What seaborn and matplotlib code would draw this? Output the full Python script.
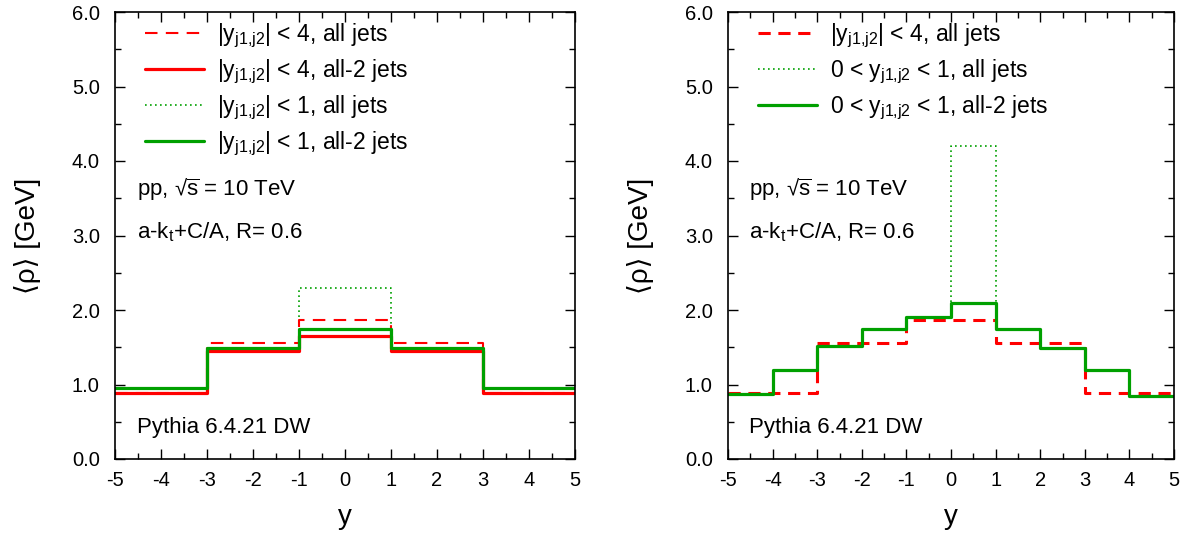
import numpy as np
import pandas as pd
import matplotlib
matplotlib.use("Agg")
import matplotlib.pyplot as plt
import seaborn as sns
from matplotlib.ticker import MultipleLocator, FormatStrFormatter

sns.set_style("ticks")
plt.rcParams['font.family'] = ['Liberation Sans', 'DejaVu Sans']
plt.rcParams['mathtext.fontset'] = 'custom'
plt.rcParams['mathtext.rm'] = 'Liberation Sans'
plt.rcParams['mathtext.it'] = 'Liberation Sans'
plt.rcParams['mathtext.default'] = 'regular'
plt.rcParams['axes.unicode_minus'] = False
for k in ['text.color', 'axes.labelcolor', 'xtick.color', 'ytick.color', 'axes.edgecolor']:
    plt.rcParams[k] = 'black'

# ---- data ----
left_edges = [-5, -3, -1, 1, 3, 5]
left_all4 = [0.89, 1.56, 1.87, 1.56, 0.89]
left_all2_4 = [0.89, 1.45, 1.655, 1.45, 0.89]
left_all1 = [0.95, 1.49, 2.30, 1.49, 0.95]
left_all2_1 = [0.95, 1.49, 1.75, 1.49, 0.95]

right_edges = [-5, -4, -3, -2, -1, 0, 1, 2, 3, 4, 5]
right_all4 = [0.89, 0.89, 1.56, 1.56, 1.865, 1.865, 1.56, 1.56, 0.89, 0.89]
right_all01 = [0.87, 1.19, 1.52, 1.74, 1.91, 4.20, 1.75, 1.49, 1.19, 0.85]
right_all2_01 = [0.87, 1.19, 1.52, 1.74, 1.91, 2.09, 1.75, 1.49, 1.19, 0.85]

xticks = [-5, -4, -3, -2, -1, 0, 1, 2, 3, 4, 5]
yticks = [0.0, 1.0, 2.0, 3.0, 4.0, 5.0, 6.0]

left_labels = [r"$|y_{j1{,}j2}|$ < 4, all jets", r"$|y_{j1{,}j2}|$ < 4, all-2 jets",
               r"$|y_{j1{,}j2}|$ < 1, all jets", r"$|y_{j1{,}j2}|$ < 1, all-2 jets"]
right_labels = [r"$|y_{j1{,}j2}|$ < 4, all jets", r"0 < $y_{j1{,}j2}$ < 1, all jets",
                r"0 < $y_{j1{,}j2}$ < 1, all-2 jets"]

RED = '#ff0000'
GREEN = '#00a000'

def step_df(edges, vals):
    return pd.DataFrame({'x': edges, 'v': list(vals) + [vals[-1]]})

def draw(ax, edges, vals, label, **kw):
    sns.lineplot(data=step_df(edges, vals), x='x', y='v', ax=ax, estimator=None,
                 drawstyle='steps-post', label=label, **kw)

fig = plt.figure(figsize=(12, 5.35), dpi=100)
axL = fig.add_axes([115/1200, 1-459/535, 460/1200, 447/535])
axR = fig.add_axes([728/1200, 1-459/535, 446/1200, 447/535])

# left panel
draw(axL, left_edges, left_all1, left_labels[2], color=GREEN, lw=1.2, ls=(0, (1, 2)))
draw(axL, left_edges, left_all4, left_labels[0], color=RED, lw=1.5, ls=(0, (6, 4)))
draw(axL, left_edges, left_all2_4, left_labels[1], color=RED, lw=2.3)
draw(axL, left_edges, left_all2_1, left_labels[3], color=GREEN, lw=2.3)

# right panel
draw(axR, right_edges, right_all4, right_labels[0], color=RED, lw=2.2, ls=(0, (4, 2.5)))
draw(axR, right_edges, right_all01, right_labels[1], color=GREEN, lw=1.2, ls=(0, (1, 2)))
draw(axR, right_edges, right_all2_01, right_labels[2], color=GREEN, lw=2.3)

FS = 16.5
for ax, order, labels in [(axL, [1, 2, 0, 3], left_labels), (axR, [0, 1, 2], right_labels)]:
    ax.set_xlim(-5, 5)
    ax.set_ylim(0, 6)
    ax.set_xticks(xticks)
    ax.set_yticks(yticks)
    ax.yaxis.set_major_formatter(FormatStrFormatter('%.1f'))
    ax.xaxis.set_minor_locator(MultipleLocator(0.5))
    ax.yaxis.set_minor_locator(MultipleLocator(0.5))
    ax.tick_params(which='both', direction='in', top=True, right=True, labelsize=14.5,
                   color='black', width=1.0)
    ax.tick_params(which='major', length=7)
    ax.tick_params(axis='x', which='major', pad=9)
    ax.tick_params(axis='y', which='major', pad=11)
    ax.tick_params(which='minor', length=4)
    for s in ax.spines.values():
        s.set_linewidth(1.2)
        s.set_color('black')
    ax.set_xlabel('y', fontsize=20, labelpad=10)
    ax.set_ylabel('⟨ρ⟩ [GeV]', fontsize=20, labelpad=22)
    h, l = ax.get_legend_handles_labels()
    ax.legend([h[i] for i in order], [l[i] for i in order], loc='upper left',
              bbox_to_anchor=(0.02, 1.025), frameon=False, fontsize=FS,
              handlelength=2.6, handletextpad=0.55, labelspacing=0.33)
    ax.text(-4.52, 3.61, r"pp, √$\overline{s}$ = 10 TeV", fontsize=16, va='center')
    ax.text(-4.52, 3.05, r"a-k$_t$+C/A, R= 0.6", fontsize=16, va='center')
    ax.text(-4.52, 0.42, "Pythia 6.4.21 DW", fontsize=16, va='center')

fig.savefig('out.png', dpi=100)
